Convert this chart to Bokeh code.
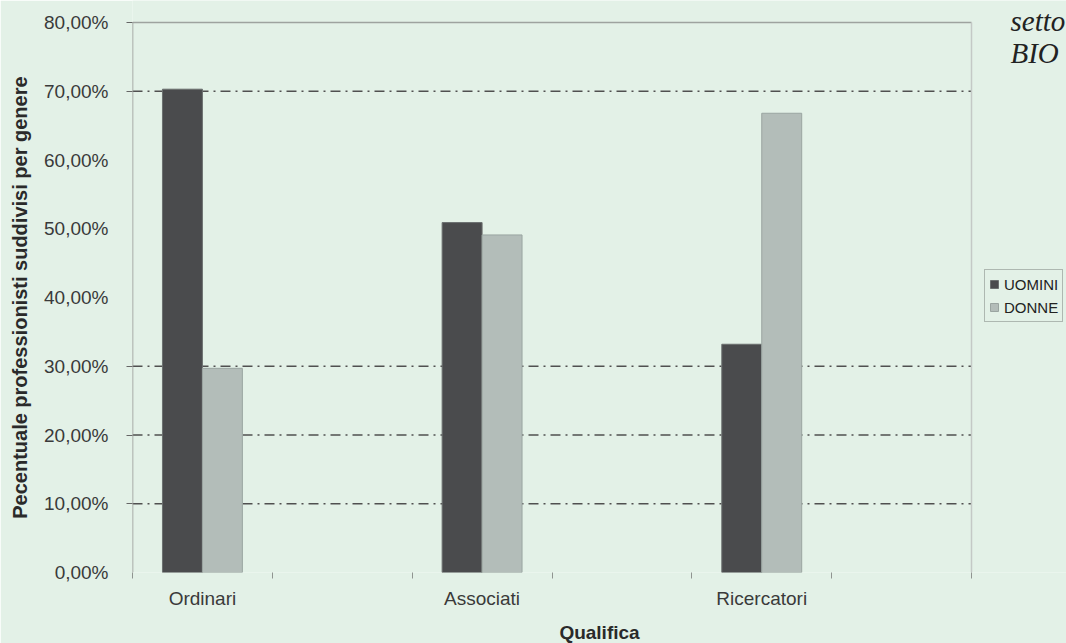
from bokeh.plotting import figure
from bokeh.models import (FixedTicker, Label, Legend, LegendItem,
                          ColumnDataSource, Range1d)
from bokeh.transform import dodge
from bokeh.embed import file_html
from bokeh.resources import INLINE

# ---- data ----
categories = ["Ordinari", "Associati", "Ricercatori"]
uomini = [70.3, 50.9, 33.2]
donne = [29.7, 49.1, 66.8]
series_names = ["UOMINI", "DONNE"]
y_ticks = [0, 10, 20, 30, 40, 50, 60, 70, 80]
y_tick_labels = ["0,00%", "10,00%", "20,00%", "30,00%", "40,00%",
                 "50,00%", "60,00%", "70,00%", "80,00%"]
grid_levels = [10, 20, 30, 70]
y_title = "Pecentuale  professionisti  suddivisi  per  genere"
x_title = "Qualifica"
side_text = ["setto", "BIO"]

# six slots on the axis, a category in every other one
n_slots = 2 * len(categories)
slot_pos = [2 * i + 0.5 for i in range(len(categories))]
y_max = y_ticks[-1]

BG = "#e3f1e7"
FONT = "Liberation Sans"

# frame runs to the right page edge and the top edge; the plot box is 839x550 px
FRAME_W, FRAME_H = 934, 572
BOX_W, BOX_H = 839, 550

src = ColumnDataSource(dict(x=slot_pos, cat=categories, u=uomini, d=donne))

p = figure(frame_width=FRAME_W, frame_height=FRAME_H,
           x_range=Range1d(0, n_slots * FRAME_W / BOX_W),
           y_range=Range1d(0, y_max * FRAME_H / BOX_H),
           output_backend="svg", toolbar_location=None,
           min_border_left=132, min_border_right=0,
           min_border_top=0, min_border_bottom=71,
           background_fill_color=BG, border_fill_color=BG)
p.outline_line_color = None
p.xgrid.visible = False
p.ygrid.visible = False

# dash-dot grid lines inside the plot box
gsrc = ColumnDataSource(dict(y=grid_levels))
p.segment(x0=0, x1=n_slots, y0="y", y1="y", source=gsrc,
          line_color="#505050", line_width=1.5, line_dash="10 5 2 5")

# plot box lines: top, right, left axis
p.segment(x0=0, x1=n_slots, y0=y_max, y1=y_max, line_color="#9ea39f", line_width=1.5)
p.segment(x0=n_slots, x1=n_slots, y0=0, y1=y_max, line_color="#c4c9c6", line_width=1.5)
p.segment(x0=0, x1=0, y0=0, y1=y_max, line_color="#8f9490", line_width=1.5)

bw = 0.2857
r_u = p.vbar(x=dodge("x", -bw / 2, range=p.x_range), top="u", width=bw, source=src,
             fill_color="#4a4b4d", line_color="#6b6f6f", line_width=1)
r_d = p.vbar(x=dodge("x", bw / 2, range=p.x_range), top="d", width=bw, source=src,
             fill_color="#b3bdb9", line_color="#9aa5a1", line_width=1)

# y axis
ya = p.yaxis[0]
ya.ticker = FixedTicker(ticks=y_ticks, minor_ticks=grid_levels + [y_max])
ya.major_label_overrides = {t: l for t, l in zip(y_ticks, y_tick_labels)}
ya.major_tick_line_color = None
ya.major_tick_out = 0
ya.major_tick_in = 0
ya.minor_tick_out = 6
ya.minor_tick_in = 0
ya.minor_tick_line_color = "#666666"
ya.axis_line_color = None
ya.major_label_standoff = 18
ya.major_label_text_font = FONT
ya.major_label_text_font_size = "19px"
ya.major_label_text_color = "#3a3a3a"
ya.axis_label = y_title
ya.axis_label_text_font = FONT
ya.axis_label_text_font_size = "20px"
ya.axis_label_text_font_style = "bold"
ya.axis_label_text_color = "#2a2a2a"
ya.axis_label_standoff = 10

# x axis
xa = p.xaxis[0]
xa.ticker = FixedTicker(ticks=slot_pos, minor_ticks=list(range(n_slots + 1)))
xa.major_label_overrides = {x: c for x, c in zip(slot_pos, categories)}
xa.major_tick_line_color = None
xa.major_tick_out = 0
xa.major_tick_in = 0
xa.minor_tick_out = 6
xa.minor_tick_in = 0
xa.minor_tick_line_color = "#8f9490"
xa.axis_line_color = None
xa.major_label_standoff = 9
xa.major_label_text_font = FONT
xa.major_label_text_font_size = "19px"
xa.major_label_text_color = "#3a3a3a"
xa.axis_label = x_title
xa.axis_label_text_font = FONT
xa.axis_label_text_font_size = "19px"
xa.axis_label_text_font_style = "bold"
xa.axis_label_text_color = "#2a2a2a"
xa.axis_label_standoff = 10

# legend
legend = Legend(items=[LegendItem(label=series_names[0], renderers=[r_u]),
                       LegendItem(label=series_names[1], renderers=[r_d])],
                location=(852, 250), orientation="vertical",
                glyph_width=10, glyph_height=10, label_height=20,
                label_standoff=5, spacing=3, padding=4, margin=0,
                label_text_font=FONT, label_text_font_size="15px",
                label_text_color="#222222",
                border_line_color="#7a7f7c", border_line_width=1,
                background_fill_color=BG, background_fill_alpha=1)
p.add_layout(legend, "center")

# side text at the top right
for i, t in enumerate(side_text):
    p.add_layout(Label(x=878, y=FRAME_H - 20 - 32 * i, x_units="screen", y_units="screen",
                       text=t, text_font="Liberation Serif", text_font_style="italic",
                       text_font_size="29px", text_color="#222222",
                       text_baseline="alphabetic"))

open("out.html", "w").write(file_html(p, INLINE))
